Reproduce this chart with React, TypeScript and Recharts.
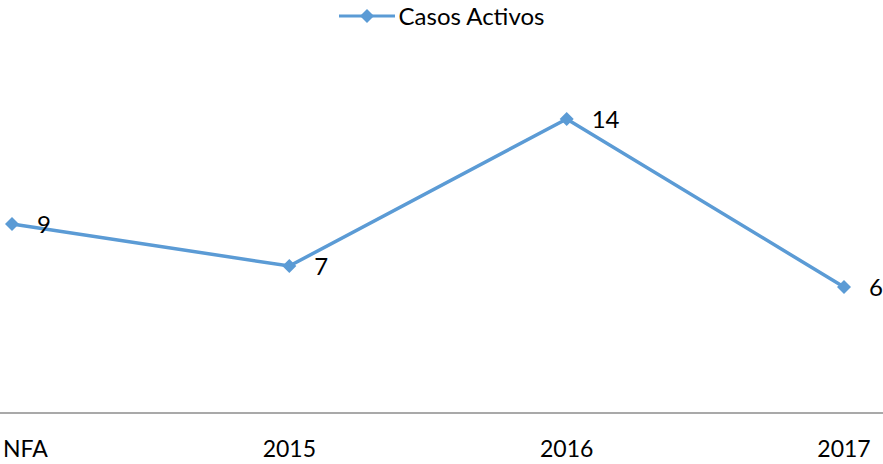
import { LineChart, Line, XAxis, YAxis, Legend, LabelList } from 'recharts';

document.body.style.margin = '0';

const categories = ['NFA', '2015', '2016', '2017'];
const casosActivos = [9, 7, 14, 6];

const data = categories.map((c, i) => ({ name: c, value: casosActivos[i] }));

const BLUE = '#5B9BD5';
const FONT = 'Lato, "Open Sans", sans-serif';

const Diamond = ({ cx, cy }: any) => {
  if (cx == null || cy == null) return null;
  const r = 7;
  return (
    <polygon
      points={`${cx},${cy - r} ${cx + r},${cy} ${cx},${cy + r} ${cx - r},${cy}`}
      fill={BLUE}
    />
  );
};

const Tick = ({ x, y, payload, index }: any) => {
  const first = index === 0;
  return (
    <text
      x={first ? x - 9 : x}
      y={y + 36}
      textAnchor={first ? 'start' : 'middle'}
      fontSize={23}
      fontFamily={FONT}
      fill="#000"
    >
      {payload.value}
    </text>
  );
};

const LegendContent = () => (
  <div style={{ display: 'flex', justifyContent: 'center', alignItems: 'center', fontFamily: FONT, fontSize: 24, height: 30 }}>
    <svg width={58} height={20} style={{ marginRight: 2 }}>
      <line x1={0} y1={10} x2={56} y2={10} stroke={BLUE} strokeWidth={3} />
      <polygon points="28,3 35,10 28,17 21,10" fill={BLUE} />
    </svg>
    <span style={{ color: '#000', lineHeight: '30px' }}>Casos Activos</span>
  </div>
);

export default function App() {
  return (
    <LineChart width={883} height={464} data={data} margin={{ top: 47, right: 0, bottom: 0, left: 0 }}>
      <XAxis
        dataKey="name"
        padding={{ left: 12, right: 39 }}
        axisLine={{ stroke: '#8c8c8c', strokeWidth: 1.5 }}
        tickLine={false}
        tick={<Tick />}
        height={51}
        interval={0}
      />
      <YAxis hide domain={[0, 16]} width={0} />
      <Legend
        verticalAlign="top"
        content={<LegendContent />}
        wrapperStyle={{ top: 1, left: 0, width: 883 }}
      />
      <Line
        type="linear"
        dataKey="value"
        stroke={BLUE}
        strokeWidth={3.5}
        dot={<Diamond />}
        activeDot={false}
        isAnimationActive={false}
      >
        <LabelList
          dataKey="value"
          position="right"
          offset={25}
          fill="#000"
          fontSize={24}
          fontFamily={FONT}
        />
      </Line>
    </LineChart>
  );
}
